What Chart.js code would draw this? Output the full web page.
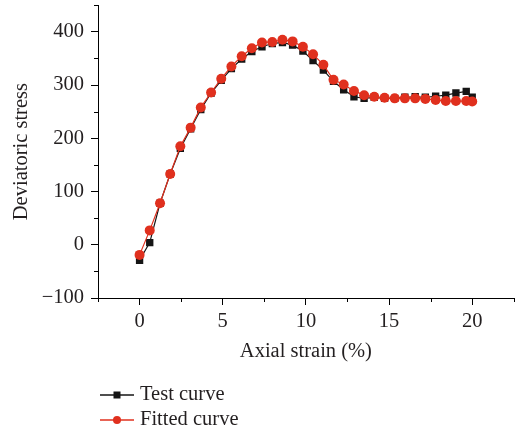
<!DOCTYPE html>
<html lang="en">
<head>
  <meta charset="UTF-8">
  <title>Deviatoric stress vs axial strain</title>
  <script src="https://cdn.jsdelivr.net/npm/chart.js"></script>
  <style>
    body {
      margin: 0;
      padding: 0;
      background: #fff;
    }
  </style>
</head>
<body>
  <canvas id="stressChart" width="519" height="434"></canvas>
  <script>
    // axial strain (%)
    const strain = [0, 0.61, 1.23, 1.84, 2.45, 3.07, 3.68, 4.3, 4.91, 5.52, 6.14, 6.75, 7.36, 7.98, 8.59, 9.2, 9.82,
      10.43, 11.05, 11.66, 12.27, 12.89, 13.5, 14.11, 14.73, 15.34, 15.95, 16.57, 17.18, 17.8, 18.41, 19.02, 19.64, 20];
    const testCurve = [-29, 4, 78, 133, 181, 218, 254, 285, 309, 331, 349, 363, 372, 378, 380, 375, 364,
      346, 328, 307, 291, 278, 275, 277, 275, 275, 277, 278, 277, 279, 281, 285, 288, 277];
    const fittedCurve = [-19, 27, 78, 133, 185, 220, 258, 286, 312, 335, 354, 369, 380, 381, 385, 382, 372,
      358, 338, 310, 301, 289, 281, 278, 276, 275, 275, 275, 274, 272, 270, 270, 270, 269];
    const xTicks = [0, 5, 10, 15, 20];
    const yTicks = [-100, 0, 100, 200, 300, 400];
    const xMinor = [-2.5, 2.5, 7.5, 12.5, 17.5, 22.5];
    const yMinor = [-50, 50, 150, 250, 350, 450];

    const FONT = 'Liberation Serif';
    const TEXT = '#231f20';
    const BLACK = '#151515';
    const RED = '#e0301e';

    // minor ticks, axis titles and the legend
    const extras = {
      id: 'extras',
      afterDraw(chart) {
        const ctx = chart.ctx;
        const area = chart.chartArea;
        const xs = chart.scales.x;
        const ys = chart.scales.y;
        ctx.save();
        ctx.strokeStyle = '#000';
        ctx.lineWidth = 1;
        ctx.beginPath();
        xMinor.forEach(v => {
          const px = Math.round(xs.getPixelForValue(v)) + 0.5;
          ctx.moveTo(px, area.bottom);
          ctx.lineTo(px, area.bottom + 4);
        });
        yMinor.forEach(v => {
          const py = Math.round(ys.getPixelForValue(v)) + 0.5;
          ctx.moveTo(area.left, py);
          ctx.lineTo(area.left - 4, py);
        });
        ctx.stroke();

        ctx.fillStyle = TEXT;
        ctx.font = '20.5px "' + FONT + '"';
        ctx.textAlign = 'center';
        ctx.textBaseline = 'middle';
        ctx.fillText('Axial strain (%)', (area.left + area.right) / 2, area.bottom + 54);
        ctx.save();
        ctx.translate(22, (area.top + area.bottom) / 2);
        ctx.rotate(-Math.PI / 2);
        ctx.fillText('Deviatoric stress', 0, 0);
        ctx.restore();

        // legend
        const rows = [
          { label: 'Test curve', color: BLACK, style: 'rect' },
          { label: 'Fitted curve', color: RED, style: 'circle' }
        ];
        rows.forEach((r, i) => {
          const y = area.bottom + 97 + i * 25;
          ctx.strokeStyle = r.color;
          ctx.lineWidth = 1.3;
          ctx.beginPath();
          ctx.moveTo(100, y);
          ctx.lineTo(134, y);
          ctx.stroke();
          ctx.fillStyle = r.color;
          if (r.style === 'rect') {
            ctx.fillRect(113.5, y - 3.5, 7, 7);
          } else {
            ctx.beginPath();
            ctx.arc(117, y, 4, 0, Math.PI * 2);
            ctx.fill();
          }
          ctx.fillStyle = TEXT;
          ctx.textAlign = 'left';
          ctx.fillText(r.label, 140, y);
        });
        ctx.restore();
      }
    };

    const toPoints = (ys) => strain.map((x, i) => ({ x: x, y: ys[i] }));

    const noPad = (scale) => {
      scale.paddingTop = 0;
      scale.paddingBottom = 0;
      scale.paddingLeft = 0;
      scale.paddingRight = 0;
    };

    new Chart(document.getElementById('stressChart'), {
      type: 'scatter',
      data: {
        datasets: [{
          label: 'Test curve',
          data: toPoints(testCurve),
          showLine: true,
          borderColor: BLACK,
          backgroundColor: BLACK,
          borderWidth: 1.2,
          pointStyle: 'rect',
          pointRadius: 5.2,
          pointBorderWidth: 0,
          order: 1
        }, {
          label: 'Fitted curve',
          data: toPoints(fittedCurve),
          showLine: true,
          borderColor: RED,
          backgroundColor: RED,
          borderWidth: 1.2,
          pointStyle: 'circle',
          pointRadius: 5,
          pointBorderWidth: 0,
          order: 0
        }]
      },
      options: {
        responsive: false,
        animation: false,
        devicePixelRatio: 1,
        layout: {
          padding: { top: 2, right: 2, left: 0, bottom: 0 }
        },
        plugins: {
          legend: { display: false },
          tooltip: { enabled: false }
        },
        scales: {
          x: {
            type: 'linear',
            min: -2.5,
            max: 22.5,
            afterBuildTicks: (scale) => { scale.ticks = xTicks.map(v => ({ value: v })); },
            afterFit: (scale) => { scale.height = 136; noPad(scale); },
            grid: {
              drawOnChartArea: false,
              drawTicks: true,
              tickLength: 7,
              color: '#000'
            },
            border: { color: '#000', width: 1 },
            ticks: {
              color: TEXT,
              padding: 4,
              maxRotation: 0,
              font: { family: FONT, size: 20.5 }
            }
          },
          y: {
            min: -100,
            max: 450,
            afterBuildTicks: (scale) => { scale.ticks = yTicks.map(v => ({ value: v })); },
            afterFit: (scale) => { scale.width = 98; noPad(scale); },
            grid: {
              drawOnChartArea: false,
              drawTicks: true,
              tickLength: 7,
              color: '#000'
            },
            border: { color: '#000', width: 1 },
            ticks: {
              color: TEXT,
              padding: 7,
              font: { family: FONT, size: 20.5 },
              callback: (v) => v < 0 ? '\u2212' + Math.abs(v) : v
            }
          }
        }
      },
      plugins: [extras]
    });
  </script>
</body>
</html>
